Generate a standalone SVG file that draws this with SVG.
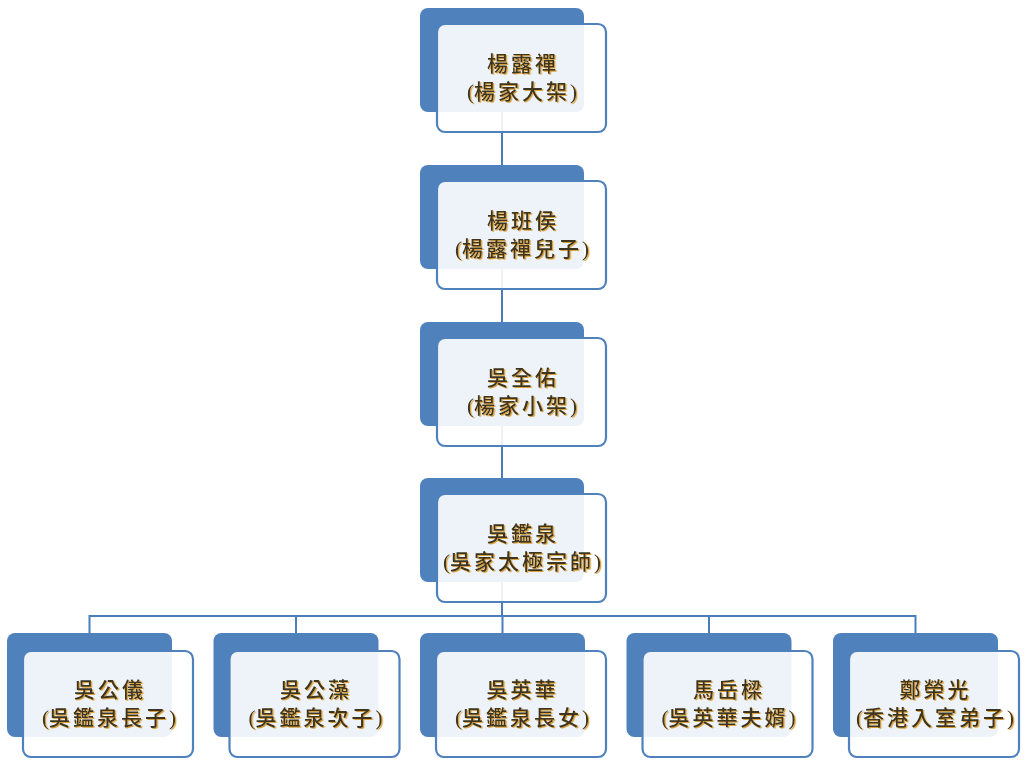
<svg xmlns="http://www.w3.org/2000/svg" width="1026" height="764" viewBox="0 0 1026 764">
<defs>
<filter id="sh" x="-10%" y="-20%" width="120%" height="140%">
<feDropShadow dx="1.3" dy="1" stdDeviation="0.3" flood-color="#D9A03A" flood-opacity="1"/>
</filter>
</defs>
<style>
.back{fill:#4F81BD;}
.front{fill:#FFFFFF;fill-opacity:0.9;stroke:#4F81BD;stroke-width:2.2;}
.conn{stroke:#4A7EBB;stroke-width:2;fill:none;}
.t{font-family:"Liberation Serif","Noto Sans CJK TC",serif;font-size:21px;font-weight:500;letter-spacing:3px;fill:#3B3420;text-anchor:middle;filter:url(#sh);}
.p{letter-spacing:0px;}
</style>
<rect width="1026" height="764" fill="#FFFFFF"/>
<g id="connectors">
<line class="conn" x1="502" y1="112" x2="502" y2="165"/>
<line class="conn" x1="502" y1="269" x2="502" y2="322"/>
<line class="conn" x1="502" y1="426" x2="502" y2="478"/>
<line class="conn" x1="502" y1="582" x2="502" y2="616"/>
<polyline class="conn" points="89.5,633 89.5,616 915.5,616 915.5,633"/>
<line class="conn" x1="296" y1="616" x2="296" y2="633"/>
<line class="conn" x1="502.5" y1="616" x2="502.5" y2="633"/>
<line class="conn" x1="709" y1="616" x2="709" y2="633"/>
</g>
<g id="n1">
<rect class="back" x="420" y="8" width="164" height="104" rx="8"/>
<rect class="front" x="437" y="24" width="169" height="108" rx="8"/>
<text class="t" x="523" y="71">楊露禪</text>
<text class="t" x="522" y="99"><tspan class="p">(</tspan>楊家大架<tspan class="p">)</tspan></text>
</g>
<g id="n2">
<rect class="back" x="420" y="165" width="164" height="104" rx="8"/>
<rect class="front" x="437" y="181" width="169" height="108" rx="8"/>
<text class="t" x="523" y="228">楊班侯</text>
<text class="t" x="522" y="256"><tspan class="p">(</tspan>楊露禪兒子<tspan class="p">)</tspan></text>
</g>
<g id="n3">
<rect class="back" x="420" y="322" width="164" height="104" rx="8"/>
<rect class="front" x="437" y="338" width="169" height="108" rx="8"/>
<text class="t" x="523" y="385">吳全佑</text>
<text class="t" x="522" y="413"><tspan class="p">(</tspan>楊家小架<tspan class="p">)</tspan></text>
</g>
<g id="n4">
<rect class="back" x="420" y="478" width="164" height="104" rx="8"/>
<rect class="front" x="437" y="494" width="169" height="108" rx="8"/>
<text class="t" x="523" y="541">吳鑑泉</text>
<text class="t" x="522" y="569"><tspan class="p">(</tspan>吳家太極宗師<tspan class="p">)</tspan></text>
</g>
<g id="c1">
<rect class="back" x="7" y="633" width="165" height="104" rx="8"/>
<rect class="front" x="23" y="651" width="170" height="106" rx="8"/>
<text class="t" x="110" y="697">吳公儀</text>
<text class="t" x="109" y="725"><tspan class="p">(</tspan>吳鑑泉長子<tspan class="p">)</tspan></text>
</g>
<g id="c2">
<rect class="back" x="213.5" y="633" width="165" height="104" rx="8"/>
<rect class="front" x="229.5" y="651" width="170" height="106" rx="8"/>
<text class="t" x="316" y="697">吳公藻</text>
<text class="t" x="315.5" y="725"><tspan class="p">(</tspan>吳鑑泉次子<tspan class="p">)</tspan></text>
</g>
<g id="c3">
<rect class="back" x="420" y="633" width="165" height="104" rx="8"/>
<rect class="front" x="436" y="651" width="170" height="106" rx="8"/>
<text class="t" x="522.5" y="697">吳英華</text>
<text class="t" x="522" y="725"><tspan class="p">(</tspan>吳鑑泉長女<tspan class="p">)</tspan></text>
</g>
<g id="c4">
<rect class="back" x="626.5" y="633" width="165" height="104" rx="8"/>
<rect class="front" x="642.5" y="651" width="170" height="106" rx="8"/>
<text class="t" x="729" y="697">馬岳樑</text>
<text class="t" x="728.5" y="725"><tspan class="p">(</tspan>吳英華夫婿<tspan class="p">)</tspan></text>
</g>
<g id="c5">
<rect class="back" x="833" y="633" width="165" height="104" rx="8"/>
<rect class="front" x="849" y="651" width="170" height="106" rx="8"/>
<text class="t" x="935.5" y="697">鄭榮光</text>
<text class="t" x="935" y="725"><tspan class="p">(</tspan>香港入室弟子<tspan class="p">)</tspan></text>
</g>
</svg>
